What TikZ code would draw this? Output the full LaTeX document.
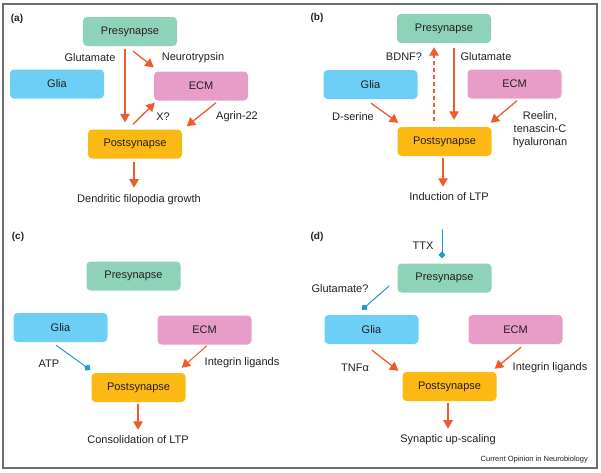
\documentclass[tikz,border=0pt]{standalone}
\usepackage{fontspec}
\setmainfont{Liberation Sans}
\usepackage{tikz}
\usetikzlibrary{arrows.meta, calc}

\definecolor{preclr}{HTML}{8ED3B9}
\definecolor{gliaclr}{HTML}{6DCFF6}
\definecolor{ecmclr}{HTML}{E79DC8}
\definecolor{postclr}{HTML}{FDB913}
\definecolor{sigred}{HTML}{EF5A2F}
\definecolor{blkblue}{HTML}{1F9AD3}
\definecolor{ink}{HTML}{231F20}
\definecolor{framegray}{HTML}{6D6E70}

\begin{document}
\begin{tikzpicture} [x=1pt, y=-1pt,
  box/.style={rounded corners=4pt, minimum width=94pt, minimum height=29pt, inner sep=0pt,
              text=ink, font=\fontsize{11}{13}\selectfont},
  prebox/.style={box, fill=preclr},
  gliabox/.style={box, fill=gliaclr},
  ecmbox/.style={box, fill=ecmclr},
  postbox/.style={box, fill=postclr},
  lbl/.style={inner sep=0pt, text=ink, font=\fontsize{11}{13}\selectfont, align=center},
  tag/.style={inner sep=0pt, text=ink, font=\fontsize{10}{12}\selectfont\bfseries},
  sig/.style={draw=sigred, line width=1.3pt, -{Triangle[length=8.5pt,width=9.5pt]}},
  block/.style={draw=blkblue, line width=1pt, -{Turned Square[length=7pt,width=7pt]}}]

\useasboundingbox (0,0) rectangle (601,472);
\draw[framegray, line width=1.1pt] (3,4) rectangle (597,468);

\path (17,19) node[tag] (atag) {(a)}

      (130,31.5) node[prebox] (apre) {Presynapse}
      (57,84) node[gliabox] (aglia) {Glia}
      (201,86) node[ecmbox] (aecm) {ECM}
      (135,144) node[postbox] (apost) {Postsynapse}

      (90,58) node[lbl] (aglu) {Glutamate}
      (193,58) node[lbl] (antr) {Neurotrypsin}
      (163,117) node[lbl] (ax) {X?}
      (237,117) node[lbl] (aagr) {Agrin-22}
      (139,200) node[lbl] (aout) {Dendritic filopodia growth};

\draw[sig] ($(apre.south)+(-5,3)$) to ($(apost.north)+(-10,-7)$);
\draw[sig] ($(apre.south)+(3,5)$) to ($(aecm.north west)+(0,-4)$);
\draw[sig] ($(apost.north)+(-2,-5)$) to ($(aecm.south west)+(1,2)$);
\draw[sig] ($(aecm.south)+(15,2)$) to ($(apost.north east)+(4.5,-3)$);
\draw[sig] ($(apost.south)+(-1,3.5)$) to ($(aout.north)+(-5,-7)$);

\path (317,18) node[tag] (btag) {(b)}

      (444,28.5) node[prebox] (bpre) {Presynapse}
      (370.5,84.5) node[gliabox] (bglia) {Glia}
      (514.5,84) node[ecmbox] (becm) {ECM}
      (444.5,141.5) node[postbox] (bpost) {Postsynapse}

      (404,57) node[lbl] (bbdnf) {BDNF?}
      (486,57) node[lbl] (bglu) {Glutamate}
      (353,117) node[lbl] (bdser) {D-serine}
      (540,130) node[lbl] (breel) {Reelin,\\tenascin-C\\hyaluronan}
      (449,197) node[lbl] (bout) {Induction of LTP};

\draw[sig, dash pattern=on 4pt off 3pt] ($(bpost.north)+(-10.5,-6)$) to ($(bpre.south)+(-10,4)$);
\draw[sig] ($(bpre.south)+(10,5)$) to ($(bpost.north)+(9.5,-7)$);
\draw[sig] ($(bglia.south)+(0.5,4)$) to ($(bpost.north west)+(1,-4)$);
\draw[sig] ($(becm.south)+(2.5,2)$) to ($(bpost.north east)+(-1,-4)$);
\draw[sig] ($(bpost.south)+(-1.5,1.5)$) to ($(bout.north)+(-6,-6)$);

\path (18,237) node[tag] (ctag) {(c)}

      (133.5,276) node[prebox] (cpre) {Presynapse}
      (60.5,327.5) node[gliabox] (cglia) {Glia}
      (204.5,330) node[ecmbox] (cecm) {ECM}
      (138.5,387.5) node[postbox] (cpost) {Postsynapse}

      (49,364) node[lbl] (catp) {ATP}
      (242,363) node[lbl] (cint) {Integrin ligands}
      (138,440) node[lbl] (cout) {Consolidation of LTP};

\draw[block] ($(cglia.south)+(-4.5,3)$) to ($(cpost.north west)+(-1,-3)$);
\draw[sig, line width=1pt] ($(cecm.south)+(2.5,1)$) to ($(cpost.north east)+(-4,-5)$);
\draw[sig] ($(cpost.south)+(-0.5,2)$) to ($(cout.north)+(0,-6)$);

\path (317,237) node[tag] (dtag) {(d)}

      (444.5,278) node[prebox] (dpre) {Presynapse}
      (371.5,329.5) node[gliabox] (dglia) {Glia}
      (515.5,329.5) node[ecmbox] (decm) {ECM}
      (449.5,386.5) node[postbox] (dpost) {Postsynapse}

      (423,246) node[lbl] (dttx) {TTX}
      (340,289) node[lbl] (dglu) {Glutamate?}
      (355,368) node[lbl] (dtnf) {TNFα}
      (550,368) node[lbl] (dint) {Integrin ligands}
      (448,440) node[lbl] (dout) {Synaptic up-scaling}

      (588,460) node[inner sep=0pt, anchor=east, text=ink, font=\fontsize{7.5}{9}\selectfont] (credit) {Current Opinion in Neurobiology};

\coordinate (dsrc) at (442,229);
\draw[block] (dsrc) to ($(dpre.north)+(-2.5,-5)$);
\draw[block] ($(dpre.south west)+(-8,-7)$) to ($(dglia.north)+(-9.5,-5)$);
\draw[sig] ($(dglia.south)+(0.5,6)$) to ($(dpost.north west)+(-4,-1)$);
\draw[sig] ($(decm.south)+(5.5,3)$) to ($(dpost.north east)+(-2,-3)$);
\draw[sig] ($(dpost.south)+(-1.5,2)$) to ($(dout.north)+(0,-6)$);

\end{tikzpicture}
\end{document}
